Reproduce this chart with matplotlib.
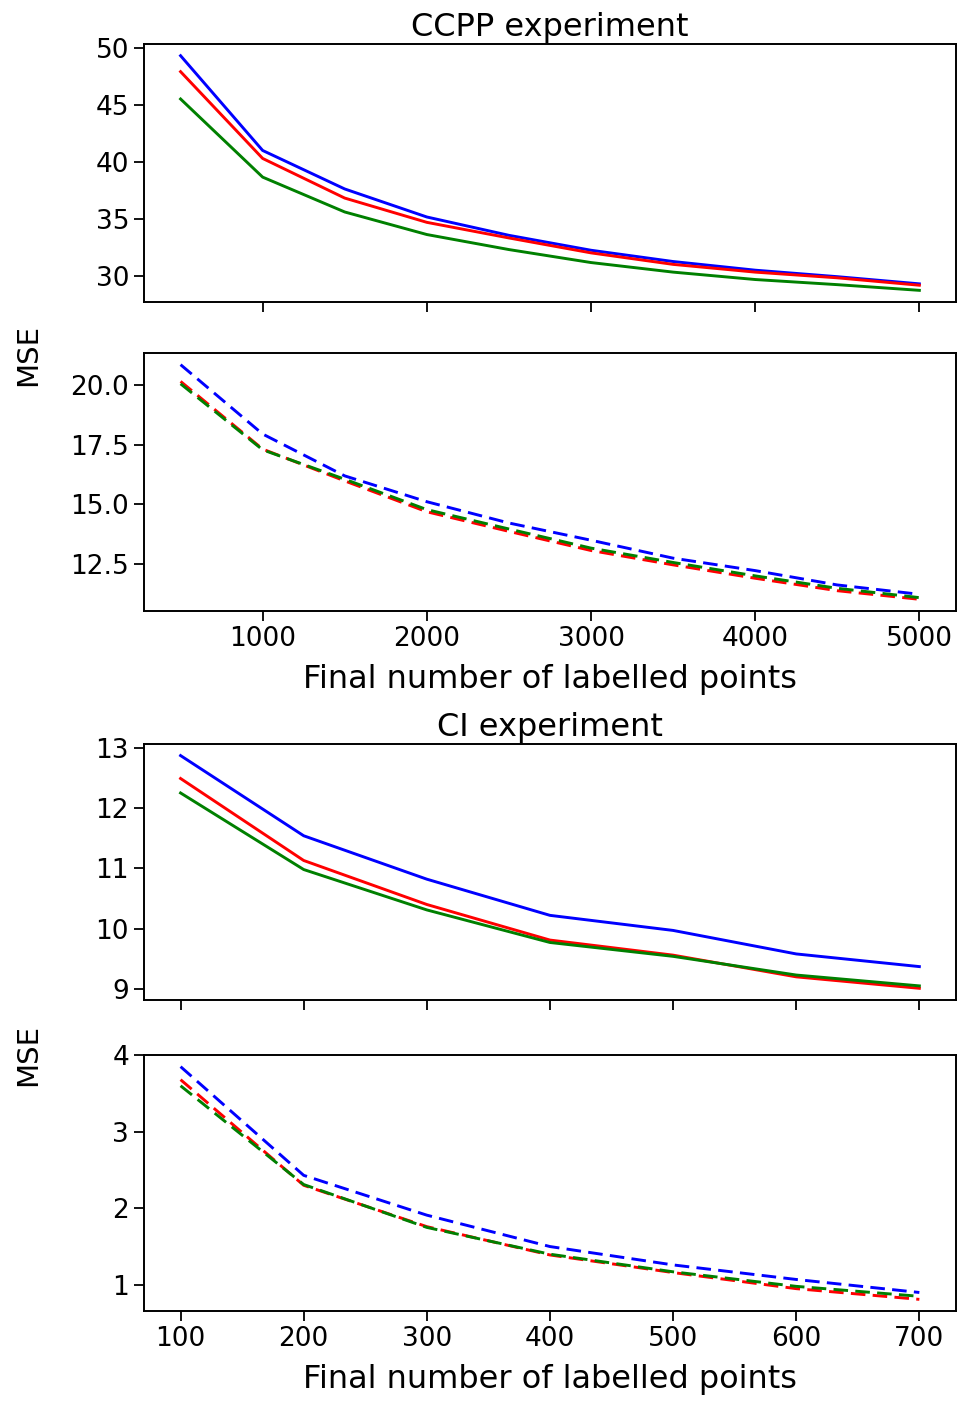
#!/usr/bin/env python3

import numpy as np
from matplotlib import pyplot as plt

# * Data

# CCPP experiment
CCPP_X = [500, 1000, 1500, 2000, 2500, 3000, 3500, 4000, 4500, 5000]
CCPP_TOP_BLUE  = [49.3, 40.98, 37.6, 35.14, 33.53, 32.22, 31.23, 30.47, 29.9, 29.27]
CCPP_TOP_RED   = [47.9, 40.28, 36.8, 34.67, 33.3, 31.99, 30.98, 30.3, 29.8, 29.15]
CCPP_TOP_GREEN = [45.5, 38.64, 35.58, 33.6, 32.28, 31.14, 30.3, 29.65, 29.2, 28.7]
CCPP_BOT_BLUE  = [20.84, 17.94, 16.19, 15.11, 14.22, 13.5, 12.75, 12.23, 11.63, 11.24]
CCPP_BOT_RED   = [20.14, 17.31, 15.98, 14.69, 13.87, 13.07, 12.47, 11.91, 11.39, 11.03]
CCPP_BOT_GREEN = [20.04, 17.28, 16.05, 14.78, 13.97, 13.17, 12.57, 12.01, 11.49, 11.1]

# CI experiment
CI_X = [100, 200, 300, 400, 500, 600, 700]
CI_TOP_BLUE  = [12.87, 11.54, 10.82, 10.22, 9.97, 9.58, 9.37]
CI_TOP_RED   = [12.49, 11.13, 10.4, 9.81, 9.56, 9.2, 9.01]
CI_TOP_GREEN = [12.25, 10.98, 10.31, 9.77, 9.54, 9.23, 9.05]
CI_BOT_BLUE  = [3.85, 2.43, 1.91, 1.5, 1.26, 1.07, 0.9]
CI_BOT_RED   = [3.68, 2.30, 1.76, 1.39, 1.16, 0.95, 0.81]
CI_BOT_GREEN = [3.60, 2.31, 1.75, 1.4, 1.17, 0.98, 0.85]

# * Plot configuration
TICK_SIZE = 19
LABEL_SIZE = 23
LW = 2.1
DASHES = (5.0, 2.5)
LEFT, WIDTH = 0.149, 0.843

plt.rcParams['font.family'] = ['DejaVu Sans']

fig = plt.figure(figsize=(9.64, 14.05), dpi=100)


def plot_pair(x, top, bot, y_top, y_bot, height, title, yticks_top, yticks_bot, ytl_bot, xticks):
    ax1 = fig.add_axes([LEFT, y_top, WIDTH, height])
    ax2 = fig.add_axes([LEFT, y_bot, WIDTH, height], sharex=ax1)
    for ys, c in zip(top, ["b", "r", "g"]):
        ax1.plot(x, ys, color=c, lw=LW)
    for ys, c in zip(bot, ["b", "r", "g"]):
        ax2.plot(x, ys, color=c, lw=LW, ls="--", dashes=DASHES)
    ax1.set_title(title, fontsize=LABEL_SIZE, pad=6)
    ax1.set_yticks(yticks_top)
    ax2.set_yticks(yticks_bot)
    ax2.set_yticklabels(ytl_bot)
    ax2.set_xticks(xticks)
    ax1.tick_params(axis="x", labelbottom=False)
    for ax in (ax1, ax2):
        ax.tick_params(labelsize=TICK_SIZE, length=7, width=1.3)
        for s in ax.spines.values():
            s.set_linewidth(1.4)
    ax2.set_xlabel("Final number of labelled points", fontsize=LABEL_SIZE, labelpad=9)
    return ax1, ax2


plot_pair(CCPP_X, [CCPP_TOP_BLUE, CCPP_TOP_RED, CCPP_TOP_GREEN],
          [CCPP_BOT_BLUE, CCPP_BOT_RED, CCPP_BOT_GREEN],
          0.785, 0.5651, 0.1837, "CCPP experiment",
          [30, 35, 40, 45, 50], [12.5, 15.0, 17.5, 20.0],
          ["12.5", "15.0", "17.5", "20.0"], [1000, 2000, 3000, 4000, 5000])

plot_pair(CI_X, [CI_TOP_BLUE, CI_TOP_RED, CI_TOP_GREEN],
          [CI_BOT_BLUE, CI_BOT_RED, CI_BOT_GREEN],
          0.2883, 0.0669, 0.1822, "CI experiment",
          [9, 10, 11, 12, 13], [1, 2, 3, 4],
          ["1", "2", "3", "4"], CI_X)

fig.text(0.029, 0.747, "MSE", rotation=90, fontsize=LABEL_SIZE - 2, ha="center", va="center")
fig.text(0.029, 0.249, "MSE", rotation=90, fontsize=LABEL_SIZE - 2, ha="center", va="center")

fig.savefig("out.png", dpi=100)
